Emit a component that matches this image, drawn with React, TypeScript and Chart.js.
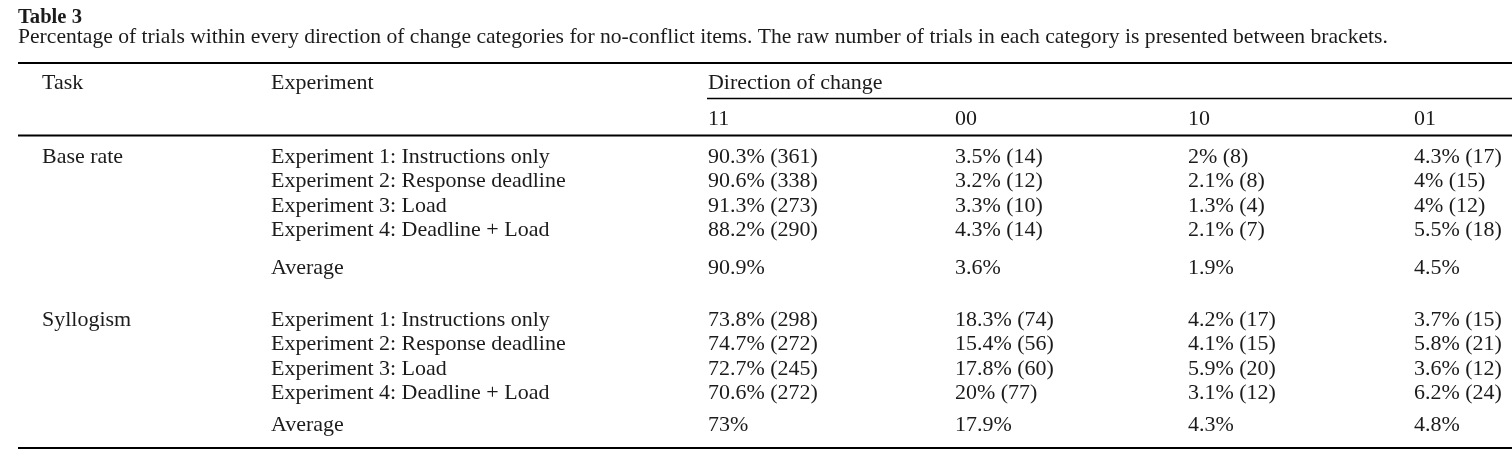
import React, { useEffect, useRef } from "react";
import { Chart, registerables } from "chart.js";

Chart.register(...registerables);

// ---------- content ----------
const tableTitle = "Table 3";
const tableCaption =
  "Percentage of trials within every direction of change categories for no-conflict items. The raw number of trials in each category is presented between brackets.";
const headerTask = "Task";
const headerExperiment = "Experiment";
const headerDirection = "Direction of change";
const directionCategories = ["11", "00", "10", "01"];
const tasks = ["Base rate", "Syllogism"];
const experiments = [
  "Experiment 1: Instructions only",
  "Experiment 2: Response deadline",
  "Experiment 3: Load",
  "Experiment 4: Deadline + Load",
];
const averageLabel = "Average";

// Base rate: percentages and raw counts per direction category (11, 00, 10, 01)
const baseRatePercent = [
  [90.3, 3.5, 2, 4.3],
  [90.6, 3.2, 2.1, 4],
  [91.3, 3.3, 1.3, 4],
  [88.2, 4.3, 2.1, 5.5],
];
const baseRateCounts = [
  [361, 14, 8, 17],
  [338, 12, 8, 15],
  [273, 10, 4, 12],
  [290, 14, 7, 18],
];
const baseRateAverage = [90.9, 3.6, 1.9, 4.5];

// Syllogism
const syllogismPercent = [
  [73.8, 18.3, 4.2, 3.7],
  [74.7, 15.4, 4.1, 5.8],
  [72.7, 17.8, 5.9, 3.6],
  [70.6, 20, 3.1, 6.2],
];
const syllogismCounts = [
  [298, 74, 17, 15],
  [272, 56, 15, 21],
  [245, 60, 20, 12],
  [272, 77, 12, 24],
];
const syllogismAverage = [73, 17.9, 4.3, 4.8];

// ---------- layout (scale units = pixels) ----------
const W = 1512;
const H = 472;
const LEFT = 18;
const COL_X = [42, 271, 708, 955, 1188, 1414]; // task, experiment, 11, 00, 10, 01
const TITLE_Y = 23;
const CAPTION_Y = 42.5;
const HEADER_Y = 89;
const SUBHEADER_Y = 125;
const RULES = [
  { y: 63, x0: LEFT, x1: W, w: 2 },
  { y: 98.5, x0: 707, x1: W, w: 1.5 },
  { y: 135.5, x0: LEFT, x1: W, w: 2 },
  { y: 448, x0: LEFT, x1: W, w: 2 },
];
const GROUP_ROW_Y = [
  [162.5, 187, 211.5, 236],
  [325.5, 350, 374.5, 399],
];
const GROUP_AVG_Y = [273.5, 431];
const TEXT_COLOR = "#1b1b1b";
const FONT_FAMILY = '"Liberation Serif", "Times New Roman", serif';

function fitSize(ctx: CanvasRenderingContext2D, text: string, width: number, weight: string) {
  ctx.font = `${weight} 100px ${FONT_FAMILY}`;
  const m = ctx.measureText(text).width;
  return (100 * width) / m;
}

function cellText(p: number, n?: number) {
  return n === undefined ? `${p}%` : `${p}% (${n})`;
}

type Cell = { x: number; y: number; text: string };

function buildColumns(): Cell[][] {
  // one dataset per column
  const cols: Cell[][] = [[], [], [], [], [], []];
  cols[0].push({ x: COL_X[0], y: HEADER_Y, text: headerTask });
  cols[1].push({ x: COL_X[1], y: HEADER_Y, text: headerExperiment });
  cols[2].push({ x: COL_X[2], y: HEADER_Y, text: headerDirection });
  directionCategories.forEach((c, k) => cols[2 + k].push({ x: COL_X[2 + k], y: SUBHEADER_Y, text: c }));
  const groups = [
    { pct: baseRatePercent, cnt: baseRateCounts, avg: baseRateAverage },
    { pct: syllogismPercent, cnt: syllogismCounts, avg: syllogismAverage },
  ];
  groups.forEach((g, gi) => {
    const rowsY = GROUP_ROW_Y[gi];
    cols[0].push({ x: COL_X[0], y: rowsY[0], text: tasks[gi] });
    experiments.forEach((e, r) => {
      cols[1].push({ x: COL_X[1], y: rowsY[r], text: e });
      g.pct[r].forEach((p, k) =>
        cols[2 + k].push({ x: COL_X[2 + k], y: rowsY[r], text: cellText(p, g.cnt[r][k]) })
      );
    });
    cols[1].push({ x: COL_X[1], y: GROUP_AVG_Y[gi], text: averageLabel });
    g.avg.forEach((p, k) => cols[2 + k].push({ x: COL_X[2 + k], y: GROUP_AVG_Y[gi], text: cellText(p) }));
  });
  return cols;
}

const tablePlugin = {
  id: "tableText",
  afterDatasetsDraw(chart: any) {
    const ctx: CanvasRenderingContext2D = chart.ctx;
    const xs = chart.scales.x;
    const ys = chart.scales.y;
    ctx.save();
    ctx.fillStyle = TEXT_COLOR;
    ctx.textAlign = "left";
    ctx.textBaseline = "alphabetic";

    const titleSize = fitSize(ctx, tableTitle, 64, "bold");
    ctx.font = `bold ${titleSize}px ${FONT_FAMILY}`;
    ctx.fillText(tableTitle, xs.getPixelForValue(LEFT), ys.getPixelForValue(TITLE_Y));

    const capSize = fitSize(ctx, tableCaption, 1370, "normal");
    ctx.font = `normal ${capSize}px ${FONT_FAMILY}`;
    ctx.fillText(tableCaption, xs.getPixelForValue(LEFT), ys.getPixelForValue(CAPTION_Y));

    // rules
    ctx.strokeStyle = "#000";
    RULES.forEach((r) => {
      ctx.lineWidth = r.w;
      ctx.beginPath();
      ctx.moveTo(xs.getPixelForValue(r.x0), ys.getPixelForValue(r.y));
      ctx.lineTo(xs.getPixelForValue(r.x1), ys.getPixelForValue(r.y));
      ctx.stroke();
    });

    const bodySize = fitSize(ctx, experiments[0], 279, "normal");
    ctx.font = `normal ${bodySize}px ${FONT_FAMILY}`;
    chart.data.datasets.forEach((ds: any, di: number) => {
      const meta = chart.getDatasetMeta(di);
      meta.data.forEach((el: any, j: number) => {
        ctx.fillText(ds.data[j].text, el.x, el.y);
      });
    });
    ctx.restore();
  },
};

export default function App() {
  const canvasRef = useRef<HTMLCanvasElement | null>(null);
  useEffect(() => {
    document.body.style.margin = "0";
    const canvas = canvasRef.current;
    if (!canvas) return;
    const cols = buildColumns();
    const chart = new Chart(canvas, {
      type: "scatter",
      data: {
        datasets: cols.map((c, i) => ({
          label: `col${i}`,
          data: c as any,
          pointRadius: 0,
          pointHoverRadius: 0,
          showLine: false,
        })),
      },
      options: {
        animation: false,
        responsive: false,
        devicePixelRatio: 1,
        events: [],
        layout: { padding: 0 },
        parsing: { xAxisKey: "x", yAxisKey: "y" } as any,
        plugins: { legend: { display: false }, tooltip: { enabled: false }, title: { display: false } },
        scales: {
          x: { type: "linear", min: 0, max: W, display: false },
          y: { type: "linear", min: 0, max: H, reverse: true, display: false },
        },
      },
      plugins: [
        {
          id: "whiteBg",
          beforeDraw(c: any) {
            c.ctx.save();
            c.ctx.fillStyle = "#fff";
            c.ctx.fillRect(0, 0, c.width, c.height);
            c.ctx.restore();
          },
        },
        tablePlugin,
      ],
    });
    return () => chart.destroy();
  }, []);
  return (
    <div style={{ position: "absolute", left: 0, top: 0, width: W, height: H, background: "#fff" }}>
      <canvas ref={canvasRef} width={W} height={H} style={{ width: W, height: H, display: "block" }} />
    </div>
  );
}
